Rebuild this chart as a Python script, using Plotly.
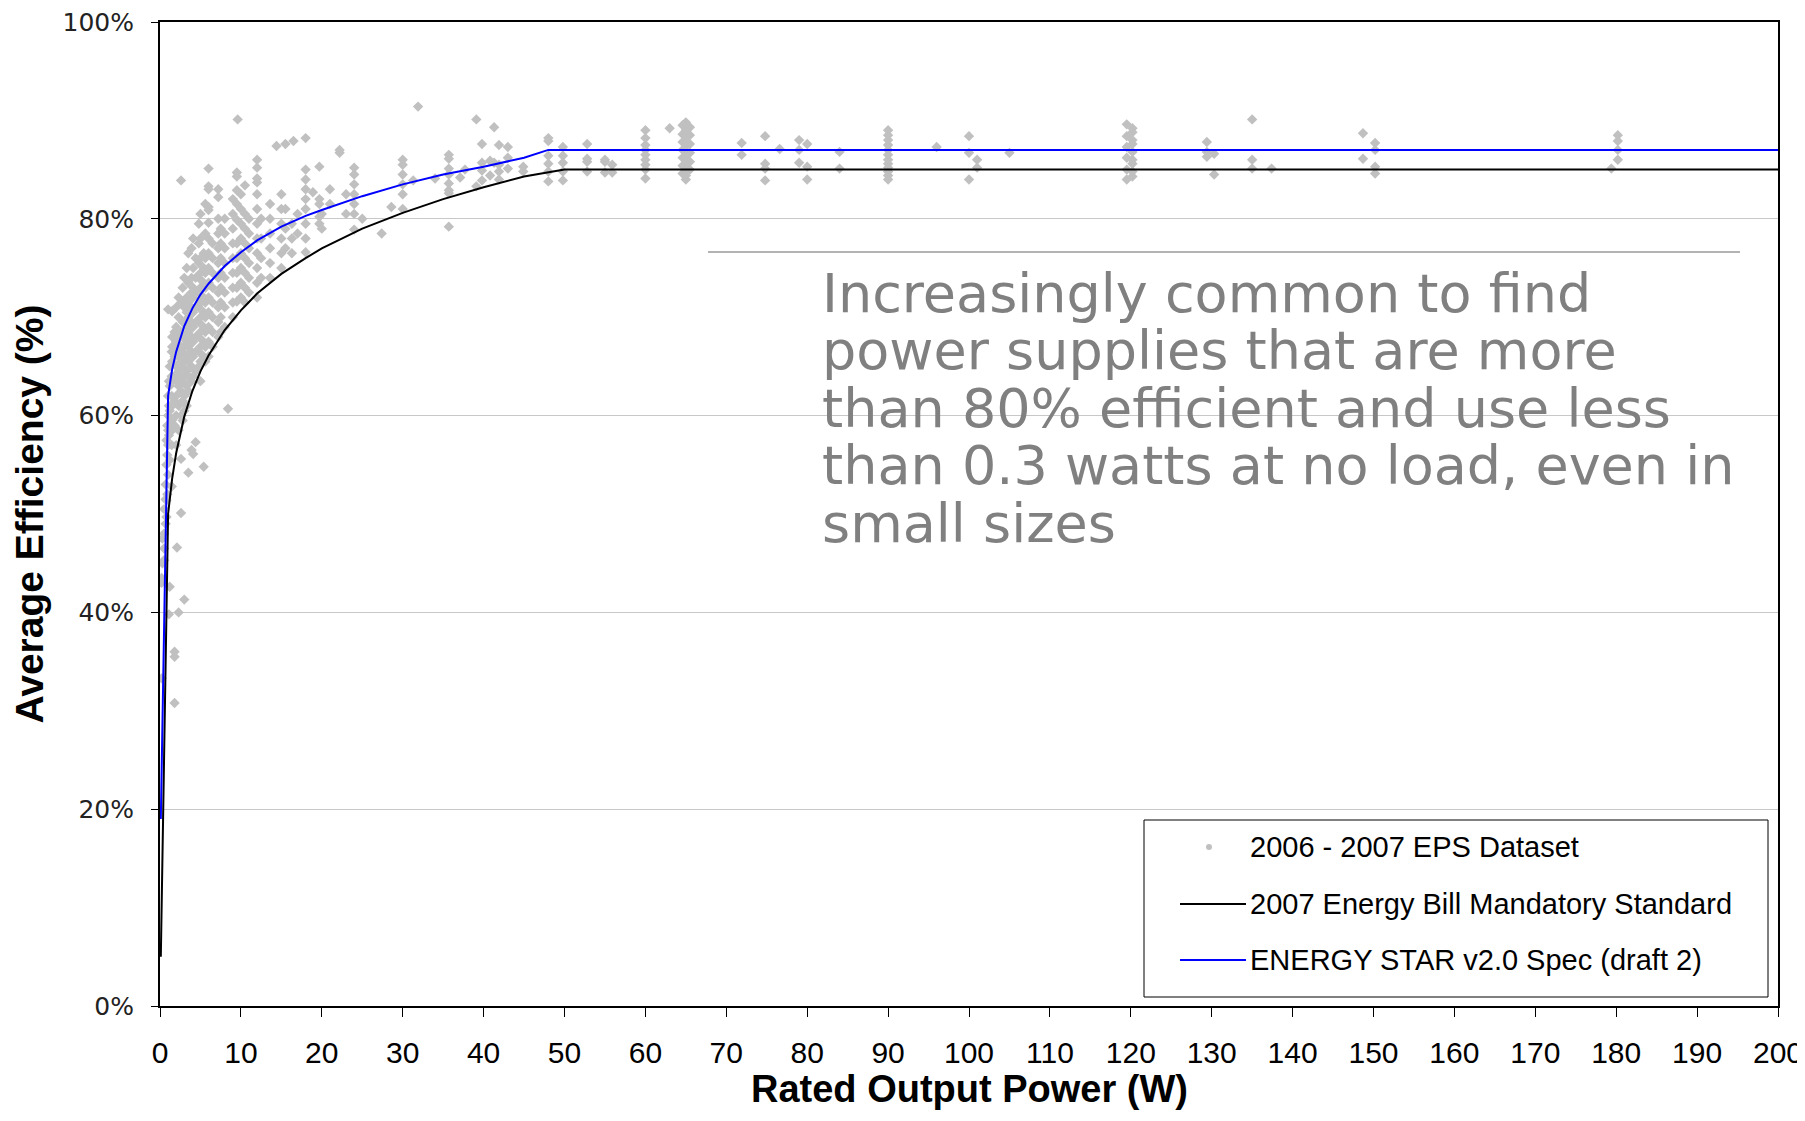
import plotly.graph_objects as go

# 2006-2007 EPS dataset: power rating (W) and the efficiencies (%) above it
lo_power = [0.2, 0.3, 0.5, 0.7, 0.8, 0.9, 1.0, 1.1, 1.2, 1.45, 1.5, 1.8, 2.0, 2.1, 2.3, 2.6,
            2.8, 3.0, 3.3, 3.5, 3.9, 4.1, 4.4, 4.8, 5.0, 5.4, 5.6, 6.0, 6.5, 7.2, 7.5, 8.0,
            8.4, 9.0, 9.5, 9.6, 10.0, 10.5, 11.0, 12.0, 12.5, 13.6, 14.4, 15.0, 15.5, 16.3,
            16.5, 17.0, 18.0, 18.9, 19.7, 20.0, 21.0, 22.2, 23.0, 24.0, 25.0, 27.4, 28.6, 30.0,
            31.3, 31.9, 34.0]
lo_eff = [
    [33.3, 43.0, 43.5], [45.0, 47.5], [45.3, 46.5, 48.0, 50.5], [49.0, 51.5, 53.0],
    [49.7, 51.4, 55.0, 57.5], [52.0, 56.0, 59.0], [54.0, 57.0, 58.5, 60.0, 62.0, 70.8],
    [39.8, 58.0, 61.0, 63.5], [42.6, 55.5, 60.5, 63.0, 65.0],
    [52.8, 57.0, 59.5, 62.0, 64.0, 66.5], [58.5, 61.0, 63.5, 65.5, 67.0, 68.0, 70.6],
    [30.8, 35.5, 36.0, 59.0, 61.5, 64.0, 66.0, 68.5],
    [57.0, 60.0, 62.0, 63.5, 65.0, 66.5, 67.5, 69.0, 71.0], [46.6],
    [40.0, 58.5, 61.0, 63.0, 64.5, 66.0, 68.0, 70.0, 72.0],
    [50.1, 55.6, 60.0, 62.5, 64.0, 65.5, 67.0, 68.5, 71.5, 83.9],
    [59.5, 61.5, 63.5, 65.0, 66.5, 68.0, 69.5, 71.5, 73.0],
    [41.3, 60.5, 62.0, 64.0, 65.5, 67.0, 68.0, 69.5, 71.0, 74.0],
    [61.0, 63.0, 64.5, 66.0, 67.5, 69.0, 70.5, 72.0, 75.0],
    [54.2, 62.5, 64.0, 65.5, 67.0, 68.5, 70.0, 71.5, 73.5, 76.5],
    [56.5, 63.5, 65.0, 66.5, 68.0, 69.5, 71.0, 72.5, 74.0, 77.0],
    [56.1, 64.0, 66.0, 67.5, 69.0, 70.5, 72.0, 73.0, 75.0, 78.0],
    [57.3, 64.5, 66.5, 68.0, 69.5, 71.0, 72.5, 74.0, 76.0],
    [65.0, 66.5, 68.0, 69.5, 71.0, 72.5, 74.0, 75.5, 77.5, 79.5],
    [63.5, 65.5, 67.0, 68.5, 70.0, 71.5, 73.0, 74.5, 76.0, 78.0, 80.5],
    [54.8, 66.0, 67.5, 69.0, 70.5, 72.0, 73.5, 75.0, 76.5],
    [65.5, 67.0, 68.5, 70.0, 71.5, 73.0, 74.5, 76.0, 78.5, 81.5],
    [66.0, 67.5, 69.0, 70.5, 72.0, 73.5, 75.0, 76.5, 78.0, 79.6, 80.9, 81.2, 83.0, 83.3, 85.1],
    [67.0, 68.5, 70.0, 71.5, 73.0, 74.5, 76.0, 77.5],
    [68.0, 69.5, 71.0, 72.5, 74.0, 75.5, 77.0, 78.5, 80.0, 82.2, 83.0],
    [68.5, 70.0, 71.5, 73.0, 74.5, 76.0, 77.5, 79.0],
    [69.0, 71.0, 72.5, 74.0, 75.5, 77.0, 78.5, 80.0],
    [60.7],
    [70.0, 71.5, 73.0, 74.5, 76.0, 77.5, 79.0, 80.5, 82.0],
    [71.6, 73.0, 74.5, 76.0, 77.5, 79.9, 81.5, 82.9, 84.3, 84.7],
    [90.1],
    [72.0, 73.5, 75.0, 76.5, 78.0, 79.5, 81.0, 82.5],
    [71.5, 73.0, 74.5, 76.0, 77.5, 79.0, 80.5, 83.4],
    [72.5, 74.0, 75.5, 77.0, 78.5, 80.0],
    [72.0, 73.5, 75.0, 76.5, 78.0, 79.5, 81.0, 82.5, 83.7, 84.1, 85.2, 86.0],
    [74.0, 76.0, 78.0, 80.0],
    [74.0, 75.5, 77.0, 78.5, 80.0, 81.5],
    [87.4],
    [75.0, 76.5, 78.0, 79.5, 81.0, 82.5],
    [77.0, 79.0, 81.0, 87.6],
    [76.5, 78.0, 79.5],
    [87.9],
    [78.5, 80.5],
    [76.6, 78.0, 79.5, 81.0, 82.0, 83.0, 84.0, 85.0, 88.2],
    [82.7],
    [79.5, 80.2, 81.5, 82.0, 85.3],
    [79.0, 80.5],
    [81.5, 83.0],
    [86.7, 87.0],
    [80.5, 82.5],
    [78.9, 80.5, 81.5, 82.5, 83.5, 84.5, 85.2],
    [80.0],
    [78.5],
    [81.2],
    [81.0, 82.5, 83.5, 84.5, 85.5, 86.0],
    [83.9],
    [91.4],
    [84.1],
]

hi_power = [35.7, 37.1, 37.7, 39.1, 39.8, 40.8, 41.3, 41.9, 43.0, 44.9, 48.0, 49.8, 52.8, 55.0,
            55.9, 60.0, 63.0, 64.6, 65.0, 65.5, 71.9, 74.8, 76.6, 79.0, 80.0, 84.0, 90.0, 96.0,
            100.0, 101.0, 105.0, 119.5, 120.2, 129.4, 130.3, 135.0, 137.4, 148.7, 150.2, 179.4,
            180.2]
hi_eff = [
    [86.5, 86.1, 85.1, 84.5, 83.6, 82.9, 82.6, 79.2],
    [84.2], [85.0], [90.1, 83.3], [87.6, 85.7, 84.9, 83.9], [85.9, 84.4], [89.3, 85.7],
    [87.5, 85.5, 84.8, 84.0], [87.3, 86.2, 85.1], [84.8, 85.3],
    [88.2, 87.9, 86.4, 85.6, 84.8, 83.8], [87.3, 86.4, 85.7, 84.8, 83.9],
    [87.6, 86.1, 85.8, 84.8], [86.0, 85.8, 84.7], [85.5, 84.7],
    [89.0, 88.2, 87.5, 87.0, 86.5, 86.0, 85.5, 85.0, 84.1],
    [89.2],
    [89.5, 88.6, 87.8, 87.0, 86.2, 85.4, 84.6],
    [89.8, 89.0, 88.4, 87.9, 87.4, 86.9, 86.4, 85.9, 85.4, 84.9, 84.4, 84.0],
    [89.3, 88.5, 87.6, 86.7, 85.8, 85.0],
    [87.7, 86.5],
    [88.4, 85.6, 85.1, 83.9],
    [87.1],
    [88.0, 87.0, 85.7],
    [87.6, 85.3, 84.0],
    [86.8, 85.1],
    [89.0, 88.5, 88.0, 87.5, 87.0, 86.5, 86.0, 85.6, 85.2, 84.8, 84.4, 84.0],
    [87.3],
    [88.4, 86.7, 84.0],
    [86.0, 85.2],
    [86.7],
    [89.6, 88.4, 87.3, 86.2, 85.0, 84.0],
    [89.2, 88.8, 88.0, 87.6, 86.8, 86.0, 85.6, 84.8, 84.3],
    [87.8, 86.8, 86.3],
    [86.6, 84.5],
    [90.1, 86.0, 85.1],
    [85.1],
    [88.7, 86.1],
    [87.7, 87.0, 85.3, 84.6],
    [85.1],
    [88.5, 87.9, 87.0, 86.0],
]

# 2007 Energy Bill mandatory standard
bill_power = [0.1, 0.2, 0.4, 0.6, 0.8, 1, 1.5, 2, 3, 4, 5, 6, 8, 10, 12, 15, 18, 20, 25, 30,
              35, 40, 45, 50, 200]
bill_eff = [5, 10, 20, 30, 40, 50, 53.6, 56.2, 59.9, 62.5, 64.5, 66.1, 68.7, 70.7, 72.4, 74.4,
            76, 77, 79, 80.6, 82, 83.2, 84.3, 85, 85]

# ENERGY STAR v2.0 draft 2
star_power = [0.1, 0.2, 0.4, 0.6, 0.8, 1, 1.5, 2, 3, 4, 5, 6, 8, 10, 12, 15, 18, 20, 25, 30,
              35, 40, 45, 48, 200]
star_eff = [19, 23.6, 33.2, 42.8, 52.4, 62, 64.7, 66.5, 69.1, 70.9, 72.3, 73.4, 75.2, 76.6,
            77.8, 79.2, 80.3, 80.9, 82.3, 83.5, 84.5, 85.3, 86.2, 87, 87]

x_ticks = list(range(0, 201, 10))
y_ticks = [0, 20, 40, 60, 80, 100]
y_labels = ["0%", "20%", "40%", "60%", "80%", "100%"]

legend_names = [
    "2006 - 2007 EPS Dataset",
    "2007 Energy Bill Mandatory Standard",
    "ENERGY STAR v2.0 Spec (draft 2)",
]

note_lines = [
    "Increasingly common to find",
    "power supplies that are more",
    "than 80% efficient and use less",
    "than 0.3 watts at no load, even in",
    "small sizes",
]

GRAY = "#c0c0c0"
BLUE = "#0000ff"

# page sits inside an 8px body margin; plot area spans page px 160..1778 x 22..1006
PX0, PX1, PY0, PY1 = 160, 1778, 22, 1006


def px(x):
    return (x - PX0) / (PX1 - PX0)


def py(y):
    return (PY1 - y) / (PY1 - PY0)


eps_x = [p for p, col in zip(lo_power, lo_eff) for _ in col] + \
        [p for p, col in zip(hi_power, hi_eff) for _ in col]
eps_y = [e for col in lo_eff for e in col] + [e for col in hi_eff for e in col]

fig = go.Figure()

fig.add_trace(go.Scatter(
    x=eps_x, y=eps_y, mode="markers", name=legend_names[0],
    marker=dict(symbol="diamond", size=8, color=GRAY, line=dict(width=0)),
))
fig.add_trace(go.Scatter(
    x=bill_power, y=bill_eff, mode="lines", name=legend_names[1],
    line=dict(color="black", width=2),
))
fig.add_trace(go.Scatter(
    x=star_power, y=star_eff, mode="lines", name=legend_names[2],
    line=dict(color=BLUE, width=2),
))

# white box behind the note hides the gridline, thin rule above it
fig.add_shape(type="rect", xref="paper", yref="paper",
              x0=px(687), x1=px(1761), y0=py(585), y1=py(240),
              fillcolor="white", line=dict(width=0), layer="between")
fig.add_shape(type="line", xref="paper", yref="paper",
              x0=px(708), x1=px(1740), y0=py(252), y1=py(252),
              line=dict(color="#666666", width=1))

for i, txt in enumerate(note_lines):
    fig.add_annotation(
        text=txt, xref="paper", yref="paper",
        x=px(820), y=py(293 + i * 57.5),
        xanchor="left", yanchor="middle", showarrow=False,
        font=dict(family="DejaVu Sans", size=54, color="#808080"),
    )

# legend box drawn by hand: longer line samples than plotly's own legend allows
fig.add_shape(type="rect", xref="paper", yref="paper",
              x0=px(1144), x1=px(1768), y0=py(997), y1=py(820),
              fillcolor="white", line=dict(color="black", width=1))
leg_y = [847, 904, 960]
fig.add_shape(type="circle", xref="paper", yref="paper",
              x0=px(1206), x1=px(1212), y0=py(leg_y[0] + 3), y1=py(leg_y[0] - 3),
              fillcolor=GRAY, line=dict(width=0))
for yy, col in zip(leg_y[1:], ["black", BLUE]):
    fig.add_shape(type="line", xref="paper", yref="paper",
                  x0=px(1180), x1=px(1246), y0=py(yy), y1=py(yy),
                  line=dict(color=col, width=2))
for yy, name in zip(leg_y, legend_names):
    fig.add_annotation(
        text=name, xref="paper", yref="paper", x=px(1248), y=py(yy),
        xanchor="left", yanchor="middle", showarrow=False,
        font=dict(family="Liberation Sans, Arial", size=29, color="black"),
    )

# x axis title as an annotation so it can sit right at the bottom edge
fig.add_annotation(
    text="<b>Rated Output Power (W)</b>", xref="paper", yref="paper",
    x=0.5, y=py(1089), xanchor="center", yanchor="middle", showarrow=False,
    font=dict(family="Liberation Sans, Arial", size=38, color="black"),
)

fig.update_layout(
    width=1805 - 8, height=1121 - 16,
    margin=dict(l=PX0 - 8, r=1805 - PX1, t=PY0 - 8, b=1121 - 8 - PY1),
    paper_bgcolor="white", plot_bgcolor="white",
    font=dict(family="Liberation Sans, Arial, sans-serif", color="black"),
    showlegend=False,
)
fig.update_xaxes(
    range=[0, 200], tickvals=x_ticks, ticks="outside", ticklen=9, tickwidth=1,
    tickcolor="black", showline=True, linecolor="black", linewidth=2, mirror=True,
    showgrid=False, zeroline=False, ticklabelstandoff=10, automargin=False,
    ticklabeloverflow="allow",
    tickfont=dict(family="Liberation Sans Narrow, Arial Narrow, Liberation Sans", size=30,
                  color="black"),
)
fig.update_yaxes(
    range=[0, 100], tickvals=y_ticks, ticktext=y_labels, ticks="outside", ticklen=7,
    tickwidth=1, tickcolor="black", showline=True, linecolor="black", linewidth=2,
    mirror=True, showgrid=True, gridcolor="#c8c8c8", gridwidth=1, zeroline=False,
    ticklabelstandoff=12, automargin=False, ticklabeloverflow="allow",
    tickfont=dict(family="DejaVu Sans", size=25, color="#222222"),
    title=dict(text="<b>Average Efficiency (%)</b>", standoff=18,
               font=dict(family="Liberation Sans, Arial", size=39, color="black")),
)

fig.write_html("out.html")
